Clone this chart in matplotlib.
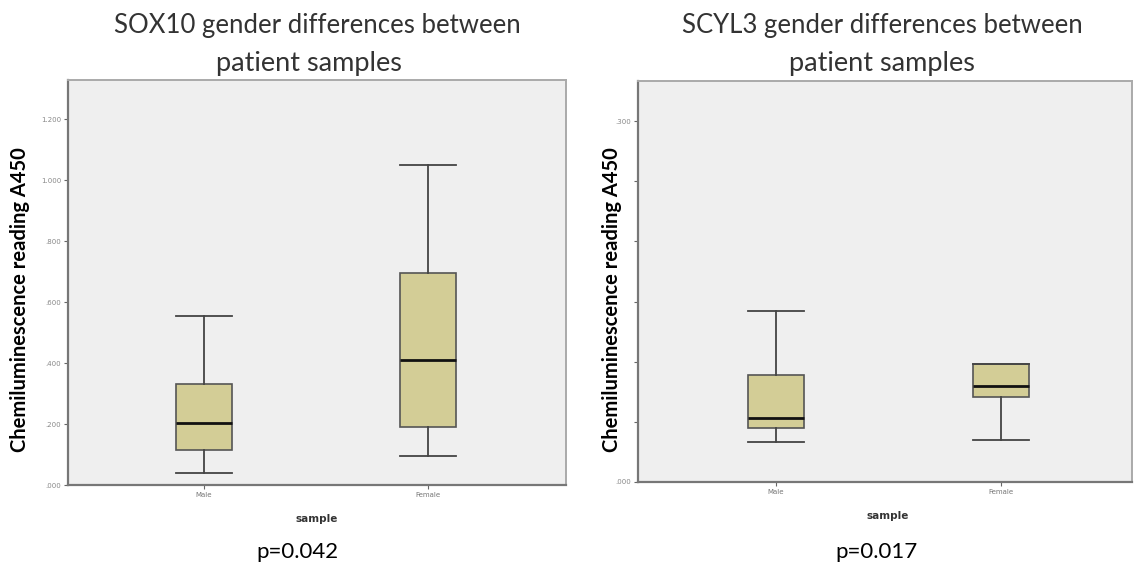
import matplotlib
matplotlib.use('Agg')
import matplotlib.pyplot as plt

# values
groups = ['Male', 'Female']

sox10_low = [0.040, 0.096]
sox10_q1 = [0.116, 0.192]
sox10_med = [0.205, 0.410]
sox10_q3 = [0.331, 0.697]
sox10_high = [0.555, 1.051]

scyl3_low = [0.033, 0.035]
scyl3_q1 = [0.045, 0.071]
scyl3_med = [0.053, 0.080]
scyl3_q3 = [0.089, 0.098]
scyl3_high = [0.142, 0.098]

sox10_ticks = [0.0, 0.2, 0.4, 0.6, 0.8, 1.0, 1.2]
sox10_ticklabels = ['.000', '.200', '.400', '.600', '.800', '1.000', '1.200']
scyl3_ticks = [0.0, 0.05, 0.10, 0.15, 0.20, 0.25, 0.30]
scyl3_ticklabels = ['.000', '', '', '', '', '', '.300']

box_color = '#d3cd96'
bg_color = '#efefef'
title_font = 'Lato'


def make_stats(low, q1, med, q3, high):
    stats = []
    for i in range(len(groups)):
        stats.append({'label': groups[i], 'whislo': low[i], 'q1': q1[i], 'med': med[i],
                      'q3': q3[i], 'whishi': high[i], 'fliers': []})
    return stats


def draw_panel(ax, stats, ticks, ticklabels, ymax, xlim):
    ax.set_facecolor(bg_color)
    ax.bxp(stats, positions=[0, 1], widths=0.25, patch_artist=True,
           boxprops=dict(facecolor=box_color, edgecolor='#555555', linewidth=1.2),
           medianprops=dict(color='#111111', linewidth=2),
           whiskerprops=dict(color='#444444', linewidth=1.3),
           capprops=dict(color='#444444', linewidth=1.3),
           capwidths=0.25, showfliers=False)
    ax.set_xlim(xlim)
    ax.set_ylim(0, ymax)
    ax.set_yticks(ticks)
    ax.set_yticklabels(ticklabels, fontsize=5, color='#888888')
    ax.set_xticks([0, 1])
    ax.set_xticklabels(groups, fontsize=5, color='#777777')
    ax.tick_params(length=3, width=0.8, color='#666666', pad=2)
    for side in ['left', 'bottom']:
        ax.spines[side].set_color('#777777')
        ax.spines[side].set_linewidth(1.6)
    for side in ['top', 'right']:
        ax.spines[side].set_color('#aaaaaa')
        ax.spines[side].set_linewidth(1.4)


fig = plt.figure(figsize=(11.34, 5.69), dpi=100)
ax1 = fig.add_axes([0.060, 0.1476, 0.439, 0.7115])
ax2 = fig.add_axes([0.5626, 0.153, 0.4354, 0.705])

draw_panel(ax1, make_stats(sox10_low, sox10_q1, sox10_med, sox10_q3, sox10_high),
           sox10_ticks, sox10_ticklabels, 1.329, (-0.607, 1.616))
draw_panel(ax2, make_stats(scyl3_low, scyl3_q1, scyl3_med, scyl3_q3, scyl3_high),
           scyl3_ticks, scyl3_ticklabels, 0.3335, (-0.613, 1.58))

# titles, labels and p-values
fig.text(0.280, 0.955, 'SOX10 gender differences between', ha='center', va='center',
         fontsize=18.5, family=title_font, color='#333333')
fig.text(0.272, 0.889, 'patient samples', ha='center', va='center',
         fontsize=19.5, family=title_font, color='#333333')
fig.text(0.778, 0.955, 'SCYL3 gender differences between', ha='center', va='center',
         fontsize=18.5, family=title_font, color='#333333')
fig.text(0.778, 0.889, 'patient samples', ha='center', va='center',
         fontsize=19.5, family=title_font, color='#333333')

fig.text(0.0175, 0.473, 'Chemiluminescence reading A450', rotation=90, ha='center', va='center',
         fontsize=14.5, family=title_font, fontweight='bold', color='black')
fig.text(0.540, 0.473, 'Chemiluminescence reading A450', rotation=90, ha='center', va='center',
         fontsize=14.5, family=title_font, fontweight='bold', color='black')

fig.text(0.2795, 0.088, 'sample', ha='center', va='center', fontsize=7.5,
         fontweight='bold', color='#333333')
fig.text(0.783, 0.093, 'sample', ha='center', va='center', fontsize=7.5,
         fontweight='bold', color='#333333')

fig.text(0.262, 0.030, 'p=0.042', ha='center', va='center', fontsize=16,
         family=title_font, color='black')
fig.text(0.773, 0.030, 'p=0.017', ha='center', va='center', fontsize=16,
         family=title_font, color='black')

plt.savefig('out.png', dpi=100)
